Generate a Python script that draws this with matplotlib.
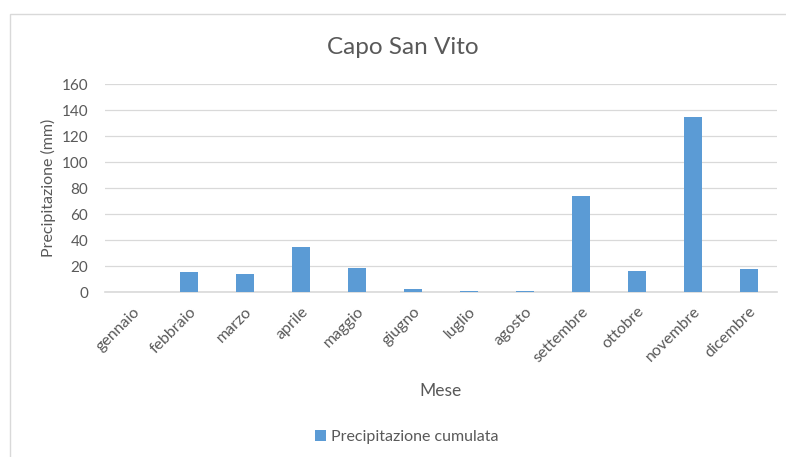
import matplotlib.pyplot as plt
from matplotlib.patches import Rectangle

mesi = ["gennaio", "febbraio", "marzo", "aprile", "maggio", "giugno", "luglio",
        "agosto", "settembre", "ottobre", "novembre", "dicembre"]
precipitazione = [0, 15.2, 13.7, 34.4, 18.3, 2.0, 0.8, 0.8, 74.0, 15.8, 134.6, 17.6]
yticks = [0, 20, 40, 60, 80, 100, 120, 140, 160]

plt.rcParams['font.family'] = ['Lato', 'DejaVu Sans']
testo = '#595959'

fig = plt.figure(figsize=(7.86, 4.57), dpi=100)
# cornice del grafico (esce dal bordo a destra e in basso)
fig.patches.append(Rectangle((10 / 786, -0.05), 1.0, 1 - 14 / 457 + 0.05,
                             transform=fig.transFigure, fill=False,
                             edgecolor='#D9D9D9', linewidth=1))

ax = fig.add_axes([105 / 786, 1 - 292 / 457, 672 / 786, 208 / 457])
x = range(len(mesi))
ax.bar(x, precipitazione, width=0.32, color='#5B9BD5', zorder=3,
       label='Precipitazione cumulata')

ax.set_ylim(0, 160)
ax.set_xlim(-0.5, len(mesi) - 0.5)
ax.set_yticks(yticks)
ax.set_xticks(list(x))
ax.set_xticklabels(mesi, rotation=45, ha='right', va='top', rotation_mode='anchor')
ax.tick_params(axis='both', length=0, colors=testo, labelsize=11)
ax.tick_params(axis='x', labelsize=11.5, pad=9)
ax.tick_params(axis='y', pad=12)
ax.grid(axis='y', color='#D9D9D9', linewidth=0.9, zorder=0)
for s in ['top', 'right', 'left']:
    ax.spines[s].set_visible(False)
ax.spines['bottom'].set_color('#D9D9D9')
ax.spines['bottom'].set_linewidth(1.2)

ax.set_ylabel("Precipitazione (mm)", color=testo, fontsize=11.5, labelpad=4)
ax.set_xlabel("Mese", color=testo, fontsize=12.5, labelpad=13)
fig.text(0.5 + 10 / 786, 1 - 48 / 457, "Capo San Vito", ha='center', va='center',
         color=testo, fontsize=17.5)

fig.legend(loc='center', bbox_to_anchor=(0.5 + 14 / 786, 1 - 437 / 457), frameon=False,
           fontsize=11.5, labelcolor=testo, handlelength=0.65, handleheight=0.65,
           handletextpad=0.35)

fig.savefig("out.png", dpi=100)
